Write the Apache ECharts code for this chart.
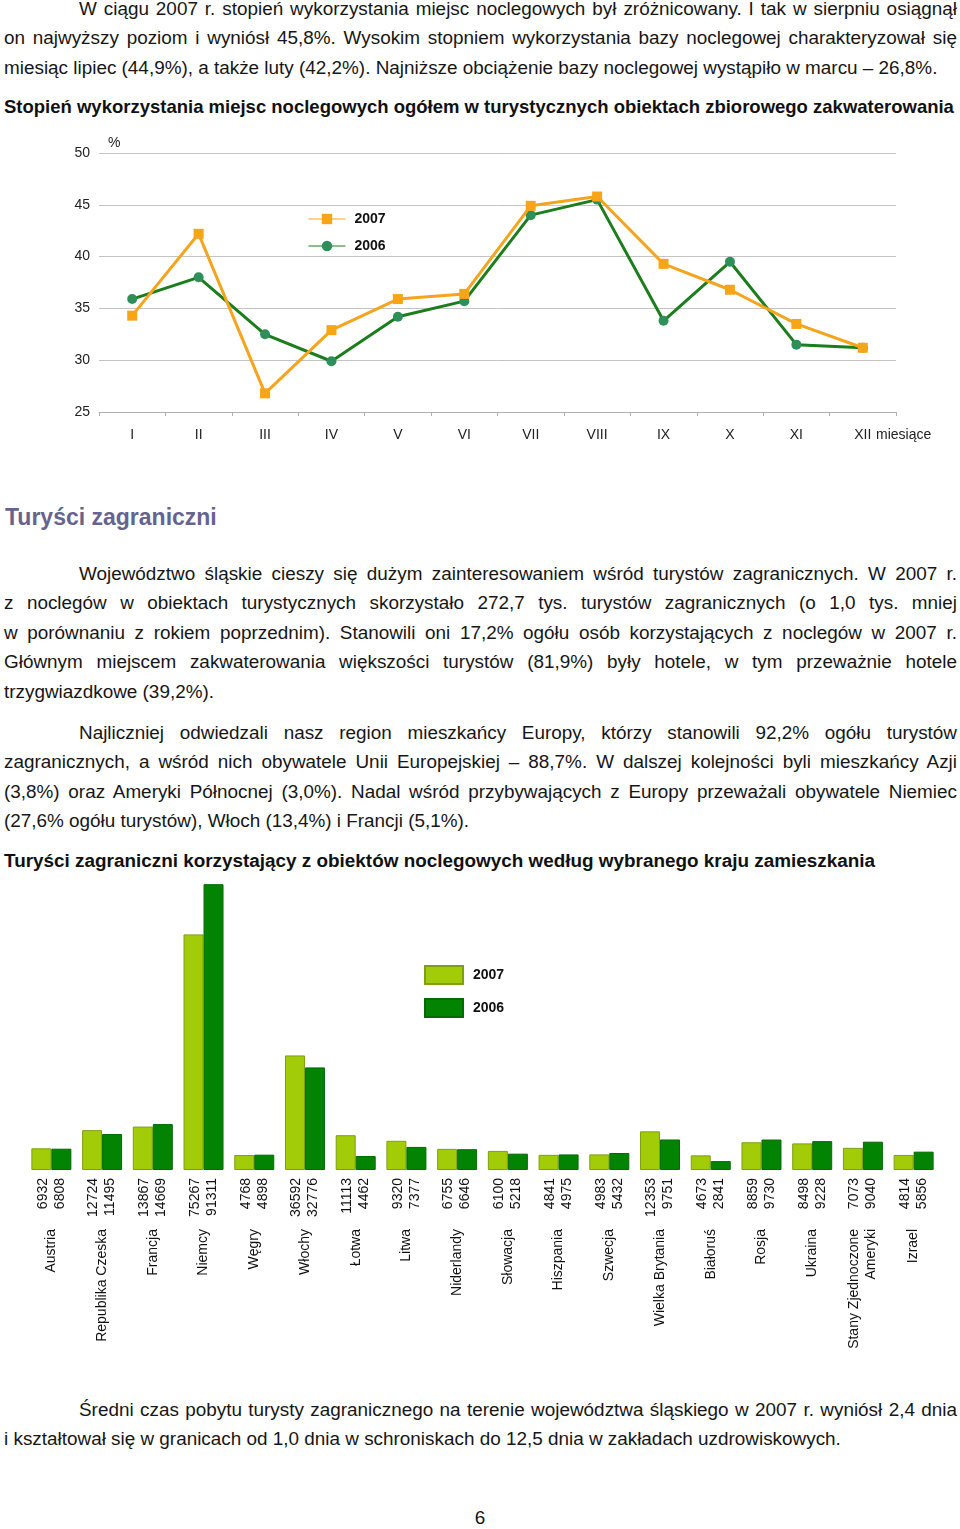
<!DOCTYPE html>
<html>
<head>
<meta charset="utf-8">
<script src="https://cdn.jsdelivr.net/npm/echarts@6/dist/echarts.min.js"></script>
<style>
  html, body { margin: 0; padding: 0; background: #fff; }
  body { width: 960px; height: 1529px; position: relative; overflow: hidden;
         font-family: "Liberation Sans", Arial, sans-serif; color: #161616; }
  .para { position: absolute; left: 4px; width: 953px; font-size: 18.9px; line-height: 29.4px; }
  .para div { white-space: nowrap; text-align: justify; text-align-last: justify; }
  .para div.ind { padding-left: 75px; }
  .para div.last { text-align: left; text-align-last: left; }
  .title { position: absolute; left: 4px; font-weight: bold; line-height: 24px; white-space: nowrap; color: #111; }
  .head { position: absolute; left: 5px; font-size: 23px; font-weight: bold; line-height: 28px; color: #66648f; }
  .chart { position: absolute; left: 0; width: 960px; }
  .pnum { position: absolute; left: 0; width: 960px; text-align: center; font-size: 18.9px; line-height: 24px; }
</style>
</head>
<body>
<div class="para" style="top:-6px">
  <div class="ind">W ciągu 2007 r. stopień wykorzystania miejsc noclegowych był zróżnicowany. I tak w sierpniu osiągnął</div>
  <div>on najwyższy poziom i wyniósł 45,8%. Wysokim stopniem wykorzystania bazy noclegowej charakteryzował się</div>
  <div class="last">miesiąc lipiec (44,9%), a także luty (42,2%). Najniższe obciążenie bazy noclegowej wystąpiło w marcu – 26,8%.</div>
</div>
<div class="title" style="top:95px;font-size:18.5px">Stopień wykorzystania miejsc noclegowych ogółem w turystycznych obiektach zbiorowego zakwaterowania</div>
<div id="line" class="chart" style="top:125px;height:330px"></div>
<div class="head" style="top:503px">Turyści zagraniczni</div>
<div class="para" style="top:559px">
  <div class="ind">Województwo śląskie cieszy się dużym zainteresowaniem wśród turystów zagranicznych. W 2007 r.</div>
  <div>z noclegów w obiektach turystycznych skorzystało 272,7 tys. turystów zagranicznych (o 1,0 tys. mniej</div>
  <div>w porównaniu z rokiem poprzednim). Stanowili oni 17,2% ogółu osób korzystających z noclegów w 2007 r.</div>
  <div>Głównym miejscem zakwaterowania większości turystów (81,9%) były hotele, w tym przeważnie hotele</div>
  <div class="last">trzygwiazdkowe (39,2%).</div>
</div>
<div class="para" style="top:718px">
  <div class="ind">Najliczniej odwiedzali nasz region mieszkańcy Europy, którzy stanowili 92,2% ogółu turystów</div>
  <div>zagranicznych, a wśród nich obywatele Unii Europejskiej – 88,7%. W dalszej kolejności byli mieszkańcy Azji</div>
  <div>(3,8%) oraz Ameryki Północnej (3,0%). Nadal wśród przybywających z Europy przeważali obywatele Niemiec</div>
  <div class="last">(27,6% ogółu turystów), Włoch (13,4%) i Francji (5,1%).</div>
</div>
<div class="title" style="top:849px;font-size:18.9px">Turyści zagraniczni korzystający z obiektów noclegowych według wybranego kraju zamieszkania</div>
<div id="bar" class="chart" style="top:880px;height:480px"></div>
<div class="para" style="top:1395px">
  <div class="ind">Średni czas pobytu turysty zagranicznego na terenie województwa śląskiego w 2007 r. wyniósł 2,4 dnia</div>
  <div class="last">i kształtował się w granicach od 1,0 dnia w schroniskach do 12,5 dnia w zakładach uzdrowiskowych.</div>
</div>
<div class="pnum" style="top:1506px">6</div>

<script>
// ---- Line chart data ----
var months = ['I', 'II', 'III', 'IV', 'V', 'VI', 'VII', 'VIII', 'IX', 'X', 'XI', 'XII'];
var util2007 = [34.3, 42.2, 26.8, 32.9, 35.9, 36.4, 44.9, 45.8, 39.3, 36.8, 33.5, 31.2];
var util2006 = [35.9, 38.0, 32.5, 29.9, 34.2, 35.7, 44.0, 45.5, 33.8, 39.5, 31.5, 31.2];
var yTicks = [25, 30, 35, 40, 45, 50];

// ---- Bar chart data ----
var countries = ['Austria', 'Republika Czeska', 'Francja', 'Niemcy', 'Węgry', 'Włochy', 'Łotwa', 'Litwa',
  'Niderlandy', 'Słowacja', 'Hiszpania', 'Szwecja', 'Wielka Brytania', 'Białoruś', 'Rosja', 'Ukraina',
  'Stany Zjednoczone\nAmeryki', 'Izrael'];
var tourists2007 = [6932, 12724, 13867, 75267, 4768, 36592, 11113, 9320, 6755, 6100, 4841, 4983, 12353, 4673, 8859, 8498, 7073, 4814];
var tourists2006 = [6808, 11495, 14669, 91311, 4898, 32776, 4462, 7377, 6646, 5218, 4975, 5432, 9751, 2841, 9730, 9228, 9040, 5856];

var FONT = '"Liberation Sans", Arial, sans-serif';

var lineChart = echarts.init(document.getElementById('line'), null, { renderer: 'canvas' });
lineChart.setOption({
  animation: false,
  textStyle: { fontFamily: FONT },
  grid: { left: 99, right: 64, top: 28, bottom: 43, containLabel: false },
  legend: {
    orient: 'vertical', left: 303, top: 82, itemGap: 13, itemWidth: 37, itemHeight: 13,
    data: ['2007', '2006'],
    lineStyle: { width: 1 },
    textStyle: { fontFamily: FONT, fontSize: 14, fontWeight: 'bold', color: '#111', padding: [0, 0, 0, 4] }
  },
  xAxis: {
    type: 'category', data: months, boundaryGap: true,
    axisLine: { lineStyle: { color: '#b0b0b0', width: 1 } },
    axisTick: { show: true, length: 4, lineStyle: { color: '#b0b0b0' } },
    axisLabel: { margin: 16, fontSize: 14, color: '#222', fontFamily: FONT }
  },
  yAxis: {
    type: 'value', min: yTicks[0], max: yTicks[yTicks.length - 1], interval: 5,
    axisLine: { show: false }, axisTick: { show: false },
    axisLabel: { margin: 9, fontSize: 14, color: '#222', fontFamily: FONT },
    splitLine: { lineStyle: { color: '#c4c4c4', width: 1 } }
  },
  graphic: [
    { type: 'text', left: 108, top: 11, style: { text: '%', font: '14px ' + FONT, fill: '#222' } },
    { type: 'text', left: 876, top: 303, style: { text: 'miesiące', font: '14px ' + FONT, fill: '#222' } }
  ],
  series: [
    {
      name: '2006', type: 'line', data: util2006, symbol: 'circle', symbolSize: 10,
      lineStyle: { color: '#1b7d1b', width: 3 },
      itemStyle: { color: '#2e8f5a' },
      z: 2
    },
    {
      name: '2007', type: 'line', data: util2007, symbol: 'rect', symbolSize: 10,
      lineStyle: { color: '#f5a41e', width: 3 },
      itemStyle: { color: '#f7a416' },
      z: 3
    }
  ]
});

var barChart = echarts.init(document.getElementById('bar'), null, { renderer: 'canvas' });
barChart.setOption({
  animation: false,
  textStyle: { fontFamily: FONT },
  grid: { left: 26, right: 21, top: 2, bottom: 190, containLabel: false },
  legend: {
    orient: 'vertical', left: 419, top: 80, itemGap: 13, itemWidth: 38, itemHeight: 18,
    icon: 'rect',
    data: ['2007', '2006'],
    textStyle: { fontFamily: FONT, fontSize: 14, fontWeight: 'bold', color: '#111', padding: [0, 0, 0, 5] }
  },
  xAxis: [
    {
      type: 'category', data: countries, position: 'bottom',
      axisLine: { show: false }, axisTick: { show: false },
      axisLabel: {
        interval: 0, rotate: 90, margin: 8, fontSize: 14, lineHeight: 17, color: '#111', fontFamily: FONT,
        formatter: function (v, i) { return tourists2007[i] + '\n' + tourists2006[i]; }
      }
    },
    {
      type: 'category', data: countries, position: 'bottom',
      axisLine: { show: false }, axisTick: { show: false },
      axisLabel: { interval: 0, rotate: 90, margin: 59, fontSize: 14, lineHeight: 17, color: '#111', fontFamily: FONT }
    }
  ],
  yAxis: {
    type: 'value', min: 0, max: 92000, show: false,
    splitLine: { show: false }
  },
  series: [
    {
      name: '2007', type: 'bar', data: tourists2007, barWidth: 20, barGap: '0%', xAxisIndex: 0,
      itemStyle: { color: '#a2cc08', borderColor: '#7f9f10', borderWidth: 1 }
    },
    {
      name: '2006', type: 'bar', data: tourists2006, barWidth: 20, barGap: '0%', xAxisIndex: 0,
      itemStyle: { color: '#028402', borderColor: '#046a04', borderWidth: 1 }
    }
  ]
});
</script>
</body>
</html>
